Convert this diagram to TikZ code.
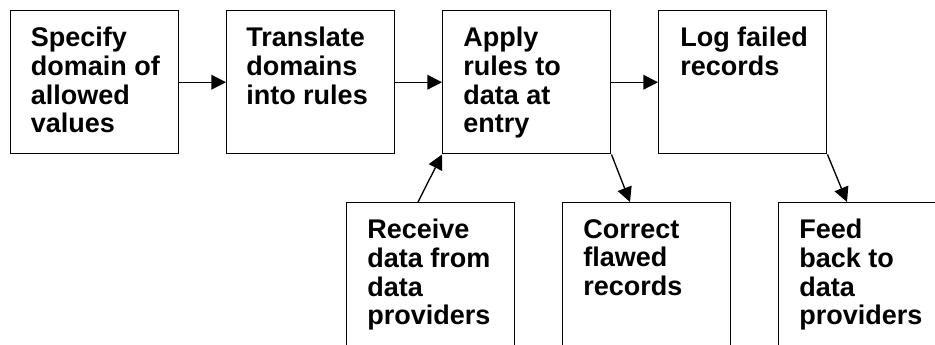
\documentclass[tikz,border=0pt]{standalone}
\usepackage{fontspec}
\setmainfont{Liberation Sans}
\usetikzlibrary{arrows.meta,calc}
\begin{document}
\begin{tikzpicture}[x=0.75pt,y=-0.75pt,
 box/.style={draw,line width=1.1pt,minimum width=126pt,minimum height=107.25pt,inner sep=0pt,anchor=north west},
 lowbox/.style={draw,line width=1.1pt,minimum width=126pt,minimum height=135pt,inner sep=0pt,anchor=north west},
 lbl/.style={anchor=north west,inner sep=0pt,align=left,font=\fontsize{20.25pt}{21.45pt}\selectfont\bfseries},
 arr/.style={-{Triangle[length=11pt,width=11pt]},line width=1pt}]
\useasboundingbox (0,0) rectangle (935,345);
\fill[white] (0,0) rectangle (935,345);
\clip (0,0) rectangle (935,345);
\node[box] (b1) at (9.5,10) {};
\node[box] (b2) at (226,10) {};
\node[box] (b3) at (442,10) {};
\node[box] (b4) at (658,10) {};
\node[lowbox] (b5) at (346,202) {};
\node[lowbox] (b6) at (562,202) {};
\node[lowbox] (b7) at (778,202) {};
\node[lbl] (t1) at ($(b1.north west)+(21,17)$) {Specify\\domain of\\allowed\\values};
\node[lbl] (t2) at ($(b2.north west)+(20,17)$) {Translate\\domains\\into rules};
\node[lbl] (t3) at ($(b3.north west)+(21,17)$) {Apply\\rules to\\data at\\entry};
\node[lbl] (t4) at ($(b4.north west)+(22,17)$) {Log failed\\records};
\node[lbl] (t5) at ($(b5.north west)+(21,17)$) {Receive\\data from\\data\\providers};
\node[lbl] (t6) at ($(b6.north west)+(21,17)$) {Correct\\flawed\\records};
\node[lbl] (t7) at ($(b7.north west)+(21,17)$) {Feed\\back to\\data\\providers};
\draw[arr] (b1.east) -- (b2.west);
\draw[arr] (b2.east) -- (b3.west);
\draw[arr] (b3.east) -- (b4.west);
\coordinate (c5) at ($(b5.north west)+(72,0)$);
\coordinate (c6) at ($(b6.north west)+(68,0)$);
\coordinate (c7) at ($(b7.north west)+(69,0)$);
\draw[arr] (c5) -- (b3.south west);
\draw[arr] (b3.south east) -- (c6);
\draw[arr] (b4.south east) -- (c7);
\end{tikzpicture}
\end{document}
